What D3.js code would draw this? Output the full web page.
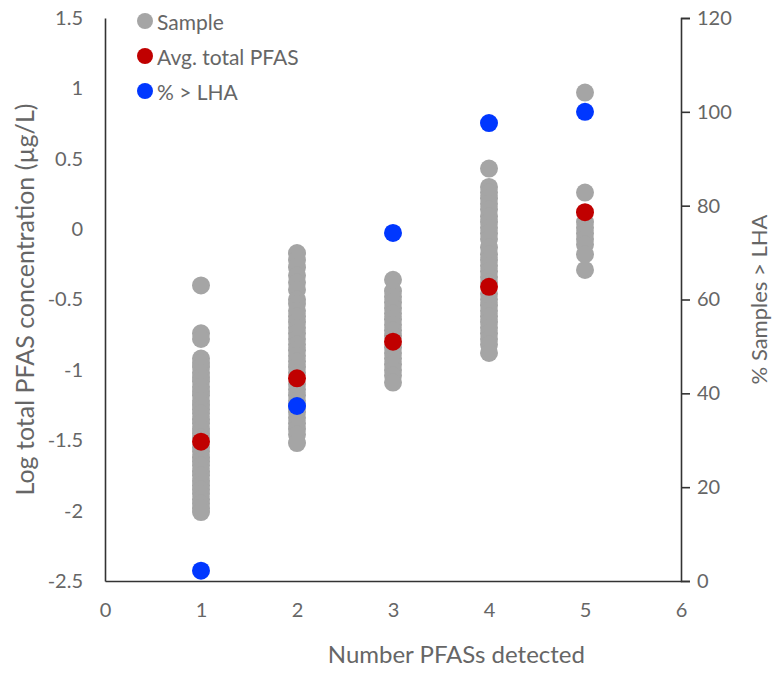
<!DOCTYPE html>
<html>
<head>
<meta charset="utf-8">
<script src="https://cdn.jsdelivr.net/npm/d3@7"></script>
<style>
  body { margin: 0; background: #fff; }
  svg text { font-family: Lato, "Open Sans", sans-serif; fill: #666; }
</style>
</head>
<body>
<svg id="chart" width="778" height="673"></svg>
<script>
// number of PFASs detected (x categories)
const counts = [1, 2, 3, 4, 5];

// log total PFAS concentration of each sample, per count
const samples1 = [-0.40, -0.74, -0.78, -0.92, -0.95, -0.98, -1.02, -1.05, -1.08, -1.12, -1.15, -1.18,
  -1.22, -1.25, -1.28, -1.31, -1.35, -1.38, -1.42, -1.45, -1.48, -1.55, -1.58, -1.62, -1.65, -1.68,
  -1.72, -1.75, -1.79, -1.82, -1.85, -1.88, -1.92, -1.95, -1.98, -2.01];
const samples2 = [-0.17, -0.22, -0.27, -0.33, -0.38, -0.43, -0.50, -0.53, -0.58, -0.62, -0.66, -0.70,
  -0.74, -0.78, -0.82, -0.86, -0.90, -0.94, -0.98, -1.02, -1.10, -1.14, -1.18, -1.22, -1.26, -1.30,
  -1.34, -1.38, -1.42, -1.46, -1.52];
const samples3 = [-0.36, -0.44, -0.48, -0.52, -0.56, -0.60, -0.64, -0.68, -0.72, -0.76, -0.84, -0.88,
  -0.92, -0.96, -1.00, -1.04, -1.09];
const samples4 = [0.43, 0.30, 0.26, 0.22, 0.18, 0.14, 0.09, 0.05, 0.01, -0.03, -0.07, -0.13, -0.18,
  -0.22, -0.26, -0.30, -0.34, -0.38, -0.46, -0.50, -0.54, -0.58, -0.62, -0.66, -0.70, -0.74, -0.78,
  -0.82, -0.88];
const samples5 = [0.97, 0.26, 0.05, 0.01, -0.03, -0.07, -0.11, -0.18, -0.29];
const sampleSets = [samples1, samples2, samples3, samples4, samples5];

// average log total PFAS per count
const avgTotal = [-1.51, -1.06, -0.80, -0.41, 0.12];
// percent of samples above the LHA per count (right axis)
const pctAboveLHA = [2.2, 37.3, 74.2, 97.6, 100];

const leftTicks = [-2.5, -2, -1.5, -1, -0.5, 0, 0.5, 1, 1.5];
const rightTicks = [0, 20, 40, 60, 80, 100, 120];
const xTicks = [0, 1, 2, 3, 4, 5, 6];

const legendItems = [
  { label: "Sample", color: "#a5a5a5" },
  { label: "Avg. total PFAS", color: "#c00000" },
  { label: "% > LHA", color: "#0037ff" }
];

const margin = { top: 18, right: 97, bottom: 92, left: 105 };
const width = 778 - margin.left - margin.right;
const height = 673 - margin.top - margin.bottom;

const svg = d3.select("#chart");
const g = svg.append("g").attr("transform", `translate(${margin.left},${margin.top})`);

const x = d3.scaleLinear().domain([0, 6]).range([0, width]);
const y = d3.scaleLinear().domain([-2.5, 1.5]).range([height, 0]);
const y2 = d3.scaleLinear().domain([0, 120]).range([height, 0]);

// left axis: line only, labels to the left (plain hyphen minus like Excel)
const leftAxis = g.append("g")
  .call(d3.axisLeft(y).tickValues(leftTicks).tickSize(0).tickPadding(22).tickFormat(d => String(d)));
leftAxis.select(".domain").attr("stroke", "#333").attr("stroke-width", 1.6);
leftAxis.selectAll("text").style("font-size", "20px");

// bottom axis
const bottomAxis = g.append("g")
  .attr("transform", `translate(0,${height})`)
  .call(d3.axisBottom(x).tickValues(xTicks).tickSize(0).tickPadding(22).tickFormat(d => String(d)));
bottomAxis.select(".domain").attr("stroke", "#333").attr("stroke-width", 1.6);
bottomAxis.selectAll("text").style("font-size", "20px");

// right axis with outward ticks
const rightAxis = g.append("g")
  .attr("transform", `translate(${width},0)`)
  .call(d3.axisRight(y2).tickValues(rightTicks).tickSizeInner(9).tickSizeOuter(9).tickPadding(7));
rightAxis.selectAll(".domain, line").attr("stroke", "#333").attr("stroke-width", 1.6);
rightAxis.selectAll("text").style("font-size", "20px");

// axis titles
svg.append("text")
  .attr("transform", `translate(28,${margin.top + height / 2}) rotate(-90)`)
  .attr("text-anchor", "middle")
  .attr("dominant-baseline", "middle")
  .style("font-size", "25px")
  .text("Log total PFAS concentration (µg/L)");

svg.append("text")
  .attr("transform", `translate(761,${margin.top + height / 2}) rotate(-90)`)
  .attr("text-anchor", "middle")
  .attr("dominant-baseline", "middle")
  .style("font-size", "22px")
  .text("% Samples > LHA");

// the title sits right of centre in the original
svg.append("text")
  .attr("x", margin.left + x(3.66))
  .attr("y", 663)
  .attr("text-anchor", "middle")
  .style("font-size", "24px")
  .text("Number PFASs detected");

// sample points
const samplePts = sampleSets.flatMap((vals, i) => vals.map(v => ({ n: counts[i], v })));
g.append("g").selectAll("circle")
  .data(samplePts)
  .join("circle")
  .attr("cx", d => x(d.n))
  .attr("cy", d => y(d.v))
  .attr("r", 9)
  .attr("fill", "#a5a5a5");

// averages
g.append("g").selectAll("circle")
  .data(avgTotal)
  .join("circle")
  .attr("cx", (d, i) => x(counts[i]))
  .attr("cy", d => y(d))
  .attr("r", 9)
  .attr("fill", "#c00000");

// percent above LHA on the secondary axis
g.append("g").selectAll("circle")
  .data(pctAboveLHA)
  .join("circle")
  .attr("cx", (d, i) => x(counts[i]))
  .attr("cy", d => y2(d))
  .attr("r", 9)
  .attr("fill", "#0037ff");

// legend
const legend = svg.append("g").attr("transform", "translate(145,21)");
const item = legend.selectAll("g")
  .data(legendItems)
  .join("g")
  .attr("transform", (d, i) => `translate(0,${i * 35})`);
item.append("circle").attr("r", 8).attr("fill", d => d.color);
item.append("text")
  .attr("x", 12)
  .attr("dominant-baseline", "central")
  .style("font-size", "21px")
  .text(d => d.label);
</script>
</body>
</html>
